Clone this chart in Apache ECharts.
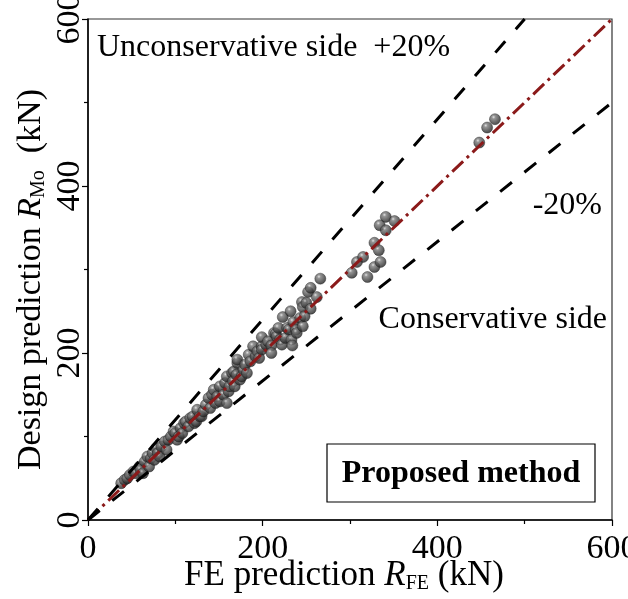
<!DOCTYPE html>
<html><head><meta charset="utf-8">
<script src="https://cdn.jsdelivr.net/npm/echarts@6/dist/echarts.min.js"></script>
<style>html,body{margin:0;padding:0;background:#fff}#c{width:628px;height:599px}</style>
</head><body><div id="c"></div>
<script>
// FE prediction (kN)
const feX = [38,42,45,48,52,55,59,60,63,65,68,70,72,74,76,78,80,82,84,88,90,92,95,98,100,102,104,106,108,110,112,115,117,120,122,124,125,128,130,132,135,138,140,142,144,146,148,151,151,155,157,159,159,161,162,165,166,167,168,170,171,171,174,176,178,180,182,184,186,189,192,194,196,199,199,199,204,206,210,210,213,215,216,218,220,222,223,226,228,230,232,233,234,235,238,239,243,245,246,246,248,250,252,255,255,262,266,302,308,315,320,328,328,333,335,334,341,341,351,448,457,466];
// Design prediction R_Mo (kN)
const moY = [44,48,50,54,58,56,64,60,56,70,76,64,74,80,72,86,80,76,88,94,84,96,100,106,104,96,100,110,104,116,118,112,122,124,116,118,132,124,124,130,138,146,134,150,156,140,148,142,160,150,164,140,172,154,160,176,166,178,160,174,188,192,168,172,180,186,176,198,190,208,196,202,194,208,204,219,210,214,209,200,224,223,220,230,216,210,243,218,230,228,250,216,209,237,228,224,242,261,255,232,244,260,273,253,278,267,289,296,309,315,291,303,332,323,309,353,347,363,358,452,470,480];
const axisTicks = [0,200,400,600];
const refX = [0,600], refY = [0,600];
const upX = [0,500], upY = [0,600];
const loX = [0,600], loY = [0,500];

const FONT = '"Liberation Serif","Times New Roman",serif';
const chart = echarts.init(document.getElementById('c'));
const pts = feX.map((x,i)=>[x,moY[i]]);
const sphere = new echarts.graphic.RadialGradient(0.38,0.32,0.7,[
  {offset:0,color:'#dcdcdc'},{offset:0.22,color:'#7a7a7a'},{offset:0.7,color:'#3e3e3e'},{offset:1,color:'#1c1c1c'}]);
const axisCommon = {
  min:0,max:600,interval:200,
  axisLine:{show:true,lineStyle:{color:'#000',width:1.5}},
  axisTick:{show:true,inside:false,length:6,lineStyle:{color:'#000',width:1.2}},
  minorTick:{show:true,splitNumber:2,length:4,lineStyle:{color:'#000',width:1.2}},
  splitLine:{show:false},
  axisLabel:{color:'#000',fontFamily:FONT,fontSize:34,formatter:v=>axisTicks.includes(v)?String(v):''}
};
chart.setOption({
  animation:false,
  grid:{left:88,right:16,top:19,bottom:79,containLabel:false,outerBoundsMode:'none',show:true,borderColor:'#333',borderWidth:1.2},
  xAxis:Object.assign({},axisCommon,{
    type:'value',
    axisLabel:Object.assign({},axisCommon.axisLabel,{margin:12}),
    name:'{n|FE prediction }{i|R}{s|FE}{n| (kN)}',nameLocation:'middle',nameGap:38,nameMoveOverlap:false,
    nameTextStyle:{padding:[0,12,0,0],rich:{
      n:{fontFamily:FONT,fontSize:35,color:'#000'},
      i:{fontFamily:FONT,fontSize:35,fontStyle:'italic',color:'#000'},
      s:{fontFamily:FONT,fontSize:20,color:'#000',padding:[16,0,0,0]}}}
  }),
  yAxis:Object.assign({},axisCommon,{
    type:'value',
    axisLabel:Object.assign({},axisCommon.axisLabel,{rotate:90,margin:1}),
    name:'{n|Design prediction }{i|R}{s|Mo}{n|  (kN)}',nameLocation:'middle',nameGap:39,nameRotate:90,nameMoveOverlap:false,
    nameTextStyle:{padding:[0,20,0,0],rich:{
      n:{fontFamily:FONT,fontSize:34,color:'#000'},
      i:{fontFamily:FONT,fontSize:34,fontStyle:'italic',color:'#000'},
      s:{fontFamily:FONT,fontSize:20,color:'#000',padding:[16,0,0,0]}}}
  }),
  series:[
    {type:'scatter',data:pts,symbol:'circle',symbolSize:11,itemStyle:{color:sphere,borderColor:'#1a1a1a',borderWidth:0.5},z:2,silent:true},
    {type:'line',data:refX.map((x,i)=>[x,refY[i]]),showSymbol:false,silent:true,z:3,
      lineStyle:{color:'#8b1a1a',width:3,type:[15,5,3,5]}},
    {type:'line',data:upX.map((x,i)=>[x,upY[i]]),showSymbol:false,silent:true,z:3,
      lineStyle:{color:'#000',width:3,type:[15,16]}},
    {type:'line',data:loX.map((x,i)=>[x,loY[i]]),showSymbol:false,silent:true,z:3,
      lineStyle:{color:'#000',width:3,type:[15,16]}}
  ],
  graphic:[
    {type:'text',left:97,top:32,style:{text:'Unconservative side  +20%',font:'32px '+FONT,fill:'#000'}},
    {type:'text',right:26,top:190,style:{text:'-20%',font:'32px '+FONT,fill:'#000'}},
    {type:'text',right:21,top:304,style:{text:'Conservative side',font:'32px '+FONT,fill:'#000'}},
    {type:'rect',shape:{x:327,y:444,width:268,height:58},style:{fill:'#fff',stroke:'#000',lineWidth:1.2},z:10},
    {type:'text',x:461,y:474,style:{text:'Proposed method',font:'bold 32px '+FONT,fill:'#000',textAlign:'center',textVerticalAlign:'middle'},z:11}
  ]
});
</script></body></html>
